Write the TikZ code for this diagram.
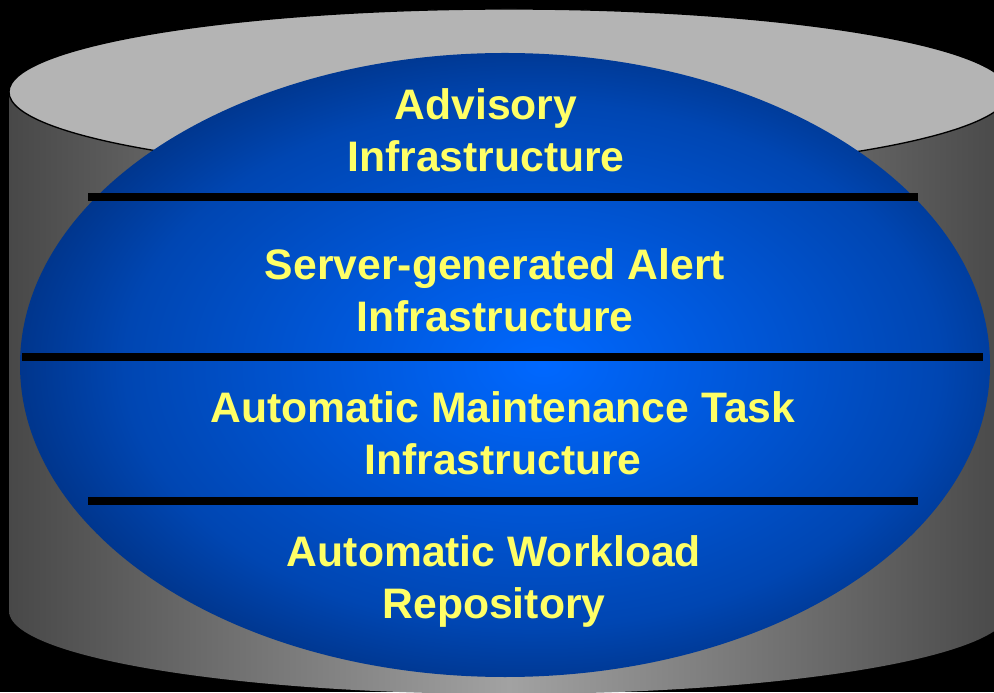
\documentclass[tikz,border=0pt]{standalone}
\usepackage{fontspec}
\setmainfont{Liberation Sans}
\usetikzlibrary{positioning}

\definecolor{topgray}{RGB}{180,180,180}
\definecolor{sidedark}{RGB}{72,72,72}
\definecolor{sidelight}{RGB}{162,162,162}
\definecolor{blueinner}{RGB}{0,104,255}
\definecolor{bluemid}{RGB}{0,70,178}
\definecolor{bluerim}{RGB}{0,48,128}
\definecolor{blueouter}{RGB}{0,40,108}
\definecolor{labelyellow}{RGB}{255,255,102}

\pgfdeclareradialshading{blueglow}{\pgfpoint{2bp}{0bp}}{color(0bp)=(blueinner); color(21bp)=(bluemid); color(28bp)=(bluerim); color(35bp)=(blueouter); color(72bp)=(blueouter)}

\begin{document}
\begin{tikzpicture}[
    x=0.75pt, y=0.75pt,
    layertext/.style={text=labelyellow, font=\fontsize{32}{39}\selectfont\bfseries, align=center, anchor=base},
    sepline/.style={line width=6pt, black}
]

    \useasboundingbox (0,0) rectangle (994,692);
    \fill[black] (0,0) rectangle (994,692);
    \clip (0,0) rectangle (994,692);

    \shade[left color=sidedark, right color=sidedark, middle color=sidelight]
        (9,600) -- (9,81) arc[start angle=180, end angle=360, x radius=500, y radius=83] -- (1009,600) -- cycle;
    \filldraw[fill=topgray, draw=black, line width=1pt] (509,600) ellipse [x radius=500, y radius=83];

    \shade[shading=blueglow] (505,327) ellipse [x radius=485, y radius=312];

    \draw[sepline] (88,495) -- (918,495);
    \draw[sepline] (22,335) -- (983,335);
    \draw[sepline] (88,191) -- (918,191);

    \node[layertext] (advisory) at (486,520) {Advisory\\Infrastructure};
    \node[layertext] (alert) at (495,360) {Server-generated Alert\\Infrastructure};
    \node[layertext] (maintenance) at (503,217) {Automatic Maintenance Task\\Infrastructure};
    \node[layertext] (workload) at (494,74) {Automatic Workload\\Repository};

\end{tikzpicture}
\end{document}
